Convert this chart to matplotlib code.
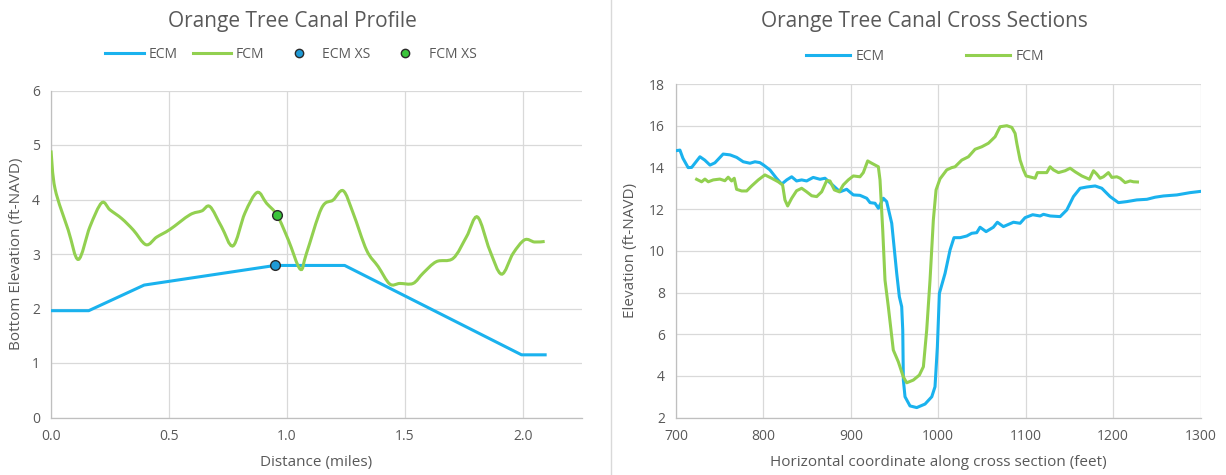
import numpy as np
import matplotlib
matplotlib.use("Agg")
import matplotlib.pyplot as plt
from matplotlib.path import Path
from matplotlib.patches import PathPatch
from matplotlib.lines import Line2D

plt.rcParams['font.family'] = ['Open Sans', 'DejaVu Sans']

# ---------------- Profile data (miles, ft-NAVD) ----------------
profile_ecm_x = [0.0, 0.16, 0.395, 0.95, 1.245, 1.995, 2.095]
profile_ecm_y = [1.96, 1.96, 2.43, 2.79, 2.79, 1.15, 1.15]

profile_fcm_x = [0.0, 0.017, 0.073, 0.116, 0.165, 0.215, 0.25, 0.30, 0.349, 0.403,
                 0.448, 0.504, 0.589, 0.639, 0.674, 0.723, 0.772, 0.822, 0.874, 0.914,
                 0.959, 1.006, 1.057, 1.083, 1.147, 1.196, 1.239, 1.281, 1.338, 1.387,
                 1.436, 1.479, 1.535, 1.578, 1.634, 1.705, 1.762, 1.808, 1.86, 1.91,
                 1.959, 2.008, 2.05, 2.093]
profile_fcm_y = [4.9, 4.2, 3.44, 2.90, 3.5, 3.94, 3.81, 3.65, 3.44, 3.17,
                 3.31, 3.45, 3.72, 3.79, 3.87, 3.5, 3.15, 3.75, 4.13, 3.93,
                 3.71, 3.26, 2.72, 3.01, 3.84, 3.99, 4.16, 3.75, 3.07, 2.77,
                 2.45, 2.46, 2.46, 2.65, 2.86, 2.92, 3.32, 3.68, 3.07, 2.63,
                 3.01, 3.26, 3.22, 3.23]

ecm_xs_point = (0.95, 2.79)
fcm_xs_point = (0.96, 3.71)

# ---------------- Cross-section data (feet, ft-NAVD) ----------------
xs_ecm_x = [700, 704.6, 708, 714, 718, 727.5, 733, 739, 744.6, 754, 762, 769.5, 777,
            784.7, 790.4, 796, 800, 807.5, 815, 821, 826.7, 832.4, 838, 843.8, 849.5,
            857, 864.8, 870.5, 878, 887.6, 895.3, 902.9, 910.5, 918.2, 922, 927.7,
            931.5, 937.2, 941, 946.8, 952.5, 955.5, 958.2, 959.4, 960.1, 962, 967.7,
            975.4, 984.9, 992.6, 996.3, 999, 1001.3, 1007.8, 1013.5, 1018, 1025,
            1032.6, 1038.3, 1044, 1047.8, 1054.7, 1063, 1067.6, 1074.5, 1086, 1093.6,
            1099.3, 1108, 1116.5, 1120.3, 1128, 1139.4, 1147, 1154.6, 1162.2, 1169.9,
            1179.4, 1187, 1196.5, 1206, 1215.7, 1227, 1238.6, 1248, 1257.6, 1272.9,
            1288, 1300]
xs_ecm_y = [14.8, 14.83, 14.44, 13.99, 14.0, 14.51, 14.35, 14.11, 14.22, 14.64, 14.6,
            14.48, 14.27, 14.2, 14.27, 14.23, 14.12, 13.88, 13.48, 13.2, 13.4, 13.55,
            13.35, 13.4, 13.35, 13.52, 13.43, 13.48, 13.2, 12.83, 12.95, 12.68, 12.66,
            12.52, 12.31, 12.28, 12.04, 12.52, 12.36, 11.32, 8.92, 7.8, 7.32, 6.2, 3.8,
            3.0, 2.56, 2.48, 2.65, 3.0, 3.48, 5.4, 7.96, 8.92, 10.04, 10.63, 10.63,
            10.71, 10.84, 10.87, 11.13, 10.92, 11.13, 11.37, 11.16, 11.37, 11.32,
            11.59, 11.73, 11.67, 11.75, 11.67, 11.64, 11.96, 12.6, 13.0, 13.06, 13.11,
            13.0, 12.6, 12.31, 12.36, 12.44, 12.47, 12.57, 12.63, 12.68, 12.79, 12.85]

xs_fcm_x = [723.7, 729.4, 733.2, 737, 742.7, 750.3, 756, 759.8, 763.7, 766.7, 769.4,
            775.2, 780.9, 786.6, 794.2, 801.8, 809.5, 817, 822, 824.7, 827.8, 832.4,
            838, 843.8, 849.5, 855.3, 861, 866.7, 872.4, 876.2, 881.2, 886.8, 891.4,
            897.1, 902.9, 910.5, 914.3, 919.3, 923.9, 931.5, 933.4, 936.5, 939.1,
            942.9, 948.6, 954.3, 960, 963.9, 971.5, 978.4, 983, 986.8, 990.6, 994.4,
            997.5, 1002, 1009.7, 1015.4, 1019.2, 1026.9, 1034.5, 1042.1, 1049.8,
            1057.4, 1065, 1070.7, 1078.4, 1084.1, 1087.9, 1089.8, 1093.6, 1097.4,
            1100.5, 1107, 1110.8, 1113.4, 1124.1, 1127.9, 1131.7, 1137.5, 1145.1,
            1150.8, 1156.5, 1164.2, 1172.9, 1177.5, 1181.3, 1185.1, 1188.9, 1194.6,
            1198.5, 1204.2, 1208, 1213.7, 1219.5, 1223.2, 1227.8]
xs_fcm_y = [13.43, 13.31, 13.44, 13.31, 13.4, 13.44, 13.36, 13.53, 13.35, 13.48, 12.95,
            12.87, 12.87, 13.11, 13.4, 13.64, 13.48, 13.31, 13.16, 12.44, 12.15, 12.52,
            12.88, 13.0, 12.83, 12.64, 12.6, 12.83, 13.36, 13.35, 12.92, 12.83, 13.16,
            13.4, 13.59, 13.55, 13.75, 14.31, 14.2, 14.03, 13.4, 11.0, 8.6, 7.32, 5.24,
            4.68, 3.96, 3.67, 3.8, 4.04, 4.44, 6.2, 8.6, 11.48, 12.92, 13.45, 13.88,
            13.99, 14.03, 14.35, 14.51, 14.87, 14.99, 15.16, 15.47, 15.95, 16.0, 15.92,
            15.63, 15.16, 14.35, 13.88, 13.59, 13.52, 13.48, 13.75, 13.75, 14.03,
            13.88, 13.75, 13.84, 13.96, 13.79, 13.59, 13.43, 13.84, 13.68, 13.48,
            13.55, 13.75, 13.52, 13.55, 13.48, 13.27, 13.35, 13.31, 13.3]

profile_xticks = [0.0, 0.5, 1.0, 1.5, 2.0]
profile_yticks = [0, 1, 2, 3, 4, 5, 6]
xs_xticks = [700, 800, 900, 1000, 1100, 1200, 1300]
xs_yticks = [2, 4, 6, 8, 10, 12, 14, 16, 18]

# ---------------- Styling ----------------
BLUE = '#1ab2ee'
GREEN = '#92d050'
TEXT = '#595959'
GRID = '#d9d9d9'
AXIS = '#bfbfbf'
LW = 2.2


def smooth_path(x, y):
    """Smoothed polyline (Catmull-Rom as cubic Bezier segments)."""
    pts = np.column_stack([x, y]).astype(float)
    n = len(pts)
    verts = [pts[0]]
    codes = [Path.MOVETO]
    for i in range(n - 1):
        p0 = pts[max(i - 1, 0)]
        p1 = pts[i]
        p2 = pts[i + 1]
        p3 = pts[min(i + 2, n - 1)]
        verts += [p1 + (p2 - p0) / 6.0, p2 - (p3 - p1) / 6.0, p2]
        codes += [Path.CURVE4] * 3
    return Path(verts, codes)


def style_axes(ax):
    ax.grid(True, color=GRID, lw=0.9)
    ax.set_axisbelow(True)
    for s in ('top', 'right'):
        ax.spines[s].set_visible(False)
    for s in ('left', 'bottom'):
        ax.spines[s].set_color(AXIS)
        ax.spines[s].set_linewidth(0.9)
    ax.tick_params(length=0, labelsize=10, labelcolor=TEXT, pad=8)


fig = plt.figure(figsize=(12.26, 4.75), dpi=100)

# ---------------- Left: profile ----------------
ax1 = fig.add_axes([51 / 1226, 1 - 417.5 / 475, (581.7 - 51) / 1226, (417.5 - 90.5) / 475])
style_axes(ax1)
ax1.set_xlim(0, 2.25)
ax1.set_ylim(0, 6)
ax1.set_xticks(profile_xticks)
ax1.set_xticklabels([f"{v:.1f}" for v in profile_xticks])
ax1.set_yticks(profile_yticks)

ax1.plot(profile_ecm_x, profile_ecm_y, color=BLUE, lw=LW, solid_joinstyle='round', zorder=3)
ax1.add_patch(PathPatch(smooth_path(profile_fcm_x, profile_fcm_y), fill=False,
                        edgecolor=GREEN, lw=LW, zorder=3))
ax1.plot(*ecm_xs_point, 'o', ms=7, mfc='#1f9ad6', mec='#2a2a2a', mew=1.0, zorder=5)
ax1.plot(*fcm_xs_point, 'o', ms=7, mfc='#3ac43a', mec='#2a2a2a', mew=1.0, zorder=5)

ax1.set_xlabel('Distance (miles)', fontsize=11, color=TEXT, labelpad=8)
ax1.set_ylabel('Bottom Elevation (ft-NAVD)', fontsize=11, color=TEXT, labelpad=6)

fig.text(292 / 1226, 1 - 21 / 475, 'Orange Tree Canal Profile', ha='center', va='center',
         fontsize=15, color=TEXT)

h1 = [Line2D([], [], color=BLUE, lw=LW),
      Line2D([], [], color=GREEN, lw=LW),
      Line2D([], [], ls='none', marker='o', ms=6, mfc='#1f9ad6', mec='#2a2a2a', mew=1.0),
      Line2D([], [], ls='none', marker='o', ms=6, mfc='#3ac43a', mec='#2a2a2a', mew=1.0)]
fig.legend(h1, ['ECM', 'FCM', 'ECM XS', 'FCM XS'], loc='center',
           bbox_to_anchor=(291 / 1226, 1 - 54 / 475), ncol=4, frameon=False,
           fontsize=10, labelcolor=TEXT, handlelength=2.8, handletextpad=0.3,
           columnspacing=1.1)

# ---------------- Right: cross sections ----------------
ax2 = fig.add_axes([675.9 / 1226, 1 - 417.6 / 475, (1200.6 - 675.9) / 1226, (417.6 - 84) / 475])
style_axes(ax2)
ax2.set_xlim(700, 1300)
ax2.set_ylim(2, 18)
ax2.set_xticks(xs_xticks)
ax2.set_yticks(xs_yticks)

ax2.plot(xs_ecm_x, xs_ecm_y, color=BLUE, lw=LW, solid_joinstyle='round', zorder=3)
ax2.plot(xs_fcm_x, xs_fcm_y, color=GREEN, lw=LW, solid_joinstyle='round', zorder=3)

ax2.set_xlabel('Horizontal coordinate along cross section (feet)', fontsize=11,
               color=TEXT, labelpad=8)
ax2.set_ylabel('Elevation (ft-NAVD)', fontsize=11, color=TEXT, labelpad=8)

fig.text(924 / 1226, 1 - 21 / 475, 'Orange Tree Canal Cross Sections', ha='center',
         va='center', fontsize=15, color=TEXT)

h2 = [Line2D([], [], color=BLUE, lw=LW), Line2D([], [], color=GREEN, lw=LW)]
fig.legend(h2, ['ECM', 'FCM'], loc='center', bbox_to_anchor=(925 / 1226, 1 - 56 / 475),
           ncol=2, frameon=False, fontsize=10, labelcolor=TEXT, handlelength=3.2,
           handletextpad=0.4, columnspacing=5.8)

# Panel divider
fig.add_artist(Line2D([611 / 1226, 611 / 1226], [0, 1], color=GRID, lw=1.0,
                      transform=fig.transFigure))

fig.savefig('out.png', dpi=100, facecolor='white')
